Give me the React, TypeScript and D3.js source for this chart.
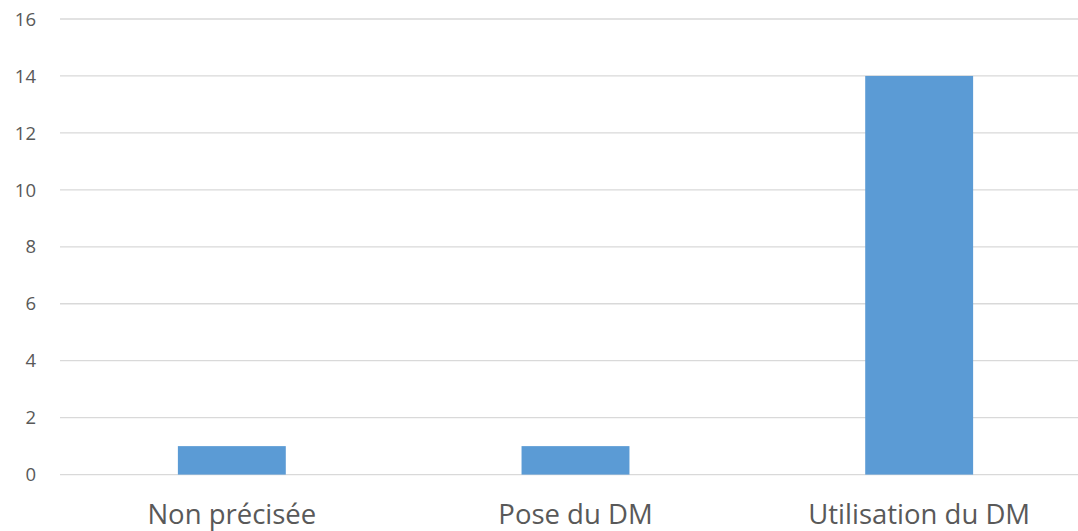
import React from "react";
import * as d3 from "d3";

const categories: string[] = ["Non précisée", "Pose du DM", "Utilisation du DM"];
const values: number[] = [1, 1, 14];
const yTicks: number[] = [0, 2, 4, 6, 8, 10, 12, 14, 16];

const W = 1078;
const H = 531;

export default function App() {
  const x = d3
    .scaleBand<string>()
    .domain(categories)
    .range([60, 1091])
    .paddingInner(0.686)
    .paddingOuter(0.343);
  const y = d3.scaleLinear().domain([0, 16]).range([474.6, 19]);

  return (
    <svg
      width={W}
      height={H}
      style={{ position: "absolute", left: 0, top: 0, background: "#fff" }}
      fontFamily="'Open Sans', sans-serif"
    >
      <g>
        {yTicks.map((t) => (
          <g key={t}>
            <line x1={60} x2={W} y1={y(t)} y2={y(t)} stroke="#d9d9d9" strokeWidth={1.3} />
            <text
              x={36}
              y={y(t)}
              dy="0.36em"
              textAnchor="end"
              fontSize={18.5}
              fill="#595959"
            >
              {t}
            </text>
          </g>
        ))}
      </g>
      <g>
        {categories.map((c, i) => (
          <rect
            key={c}
            x={x(c)!}
            width={x.bandwidth()}
            y={y(values[i])}
            height={y(0) - y(values[i])}
            fill="#5b9bd5"
          />
        ))}
      </g>
      <g>
        {categories.map((c) => (
          <text
            key={c}
            x={x(c)! + x.bandwidth() / 2}
            y={524}
            textAnchor="middle"
            fontSize={27.5}
            fill="#595959"
          >
            {c}
          </text>
        ))}
      </g>
    </svg>
  );
}
